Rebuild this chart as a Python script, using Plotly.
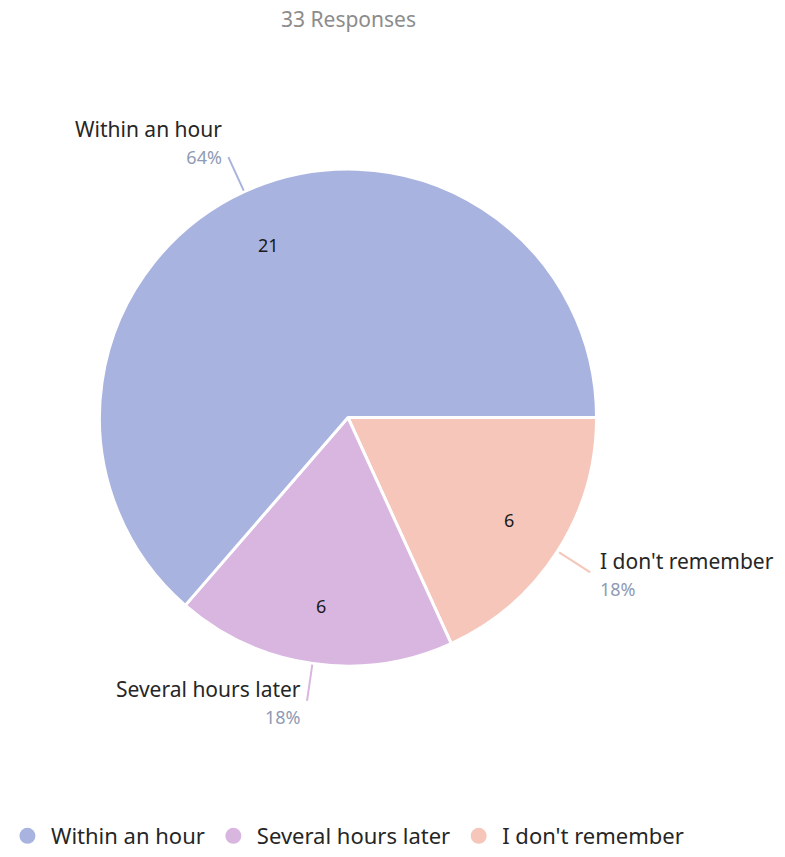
import math
import plotly.graph_objects as go

categories = ["Within an hour", "Several hours later", "I don't remember"]
counts = [21, 6, 6]
colors = ["#a9b3e0", "#d8b6e0", "#f5c6b9"]
title_text = "33 Responses"

W, H = 785, 857
CX, CY, R = 348, 420, 250          # pie centre / radius in pixels (layout)
dom_x = [(CX - R) / W, (CX + R) / W]
dom_y = [(H - CY - R) / H, (H - CY + R) / H]
FONT = "'Noto Sans', Lato, sans-serif"
LABEL_COLOR = "#262626"
PCT_COLOR = "#8f9bb5"
LINE_GAP = 27  # px between label line and percent line

def px(x):
    return x / W

def py(y):
    return 1 - y / H

fig = go.Figure()

# pie drawn clockwise from 3 o'clock, so feed slices in reverse order
fig.add_trace(go.Pie(
    labels=categories[::-1], values=counts[::-1], sort=False,
    direction="clockwise", rotation=90,
    marker=dict(colors=colors[::-1], line=dict(color="white", width=3)),
    textinfo="none",
    domain=dict(x=dom_x, y=dom_y), showlegend=False,
    hoverinfo="label+value+percent",
))

# counts, leader lines and labels derived from the data
total = sum(counts)
angle = 0.0  # degrees, counter-clockwise from 3 o'clock
for cat, v, c in zip(categories, counts, colors):
    sweep = 360.0 * v / total
    mid = math.radians(angle + sweep / 2)
    angle += sweep
    ux, uy = math.cos(mid), -math.sin(mid)

    nx, ny = CX + 0.765 * R * ux, CY + 0.765 * R * uy
    fig.add_annotation(
        x=px(nx), y=py(ny), xref="paper", yref="paper", showarrow=False,
        xanchor="center", yanchor="middle", text=str(v),
        font=dict(size=18, color="#1a1a1a", family=FONT),
    )

    x0, y0 = CX + (R + 1) * ux, CY + (R + 1) * uy
    x1, y1 = CX + (R + 38) * ux, CY + (R + 38) * uy
    fig.add_shape(type="line", xref="paper", yref="paper",
                  x0=px(x0), y0=py(y0), x1=px(x1), y1=py(y1),
                  line=dict(color=c, width=2))

    left_side = ux < 0
    if -uy > 0.5:
        centre = y1 - 15.5
    else:
        centre = y1 + 1.5
    tx = x1 - 4 if left_side else x1 + 8
    xa = "right" if left_side else "left"
    pct = round(100 * v / total)
    fig.add_annotation(
        x=px(tx), y=py(centre), xref="paper", yref="paper",
        showarrow=False, xanchor=xa, yanchor="middle",
        align="right" if left_side else "left",
        text=(f"<span style='font-size:21px;color:{LABEL_COLOR}'>{cat}</span><br>"
              f"<span style='font-size:18px;color:{PCT_COLOR}'>{pct}%</span>"),
        font=dict(size=LINE_GAP / 1.3, color=LABEL_COLOR, family=FONT),
    )

# legend entries with circle markers
for name, c in zip(categories, colors):
    fig.add_trace(go.Scatter(
        x=[None], y=[None], mode="markers", name=name,
        marker=dict(symbol="circle", size=18, color=c),
    ))

fig.add_annotation(
    text=title_text, x=px(CX), y=py(19),
    xref="paper", yref="paper", showarrow=False,
    xanchor="center", yanchor="middle",
    font=dict(size=21, color="#8c8c8c", family=FONT),
)

fig.update_layout(
    width=W, height=H,
    margin=dict(l=0, r=0, t=0, b=0),
    paper_bgcolor="white", plot_bgcolor="white",
    xaxis=dict(visible=False), yaxis=dict(visible=False),
    legend=dict(
        orientation="h", x=0.005, y=py(841), xanchor="left", yanchor="middle",
        font=dict(size=22, color=LABEL_COLOR, family=FONT),
        itemsizing="trace", itemwidth=37, traceorder="normal",
    ),
)

fig.write_html("out.html")
